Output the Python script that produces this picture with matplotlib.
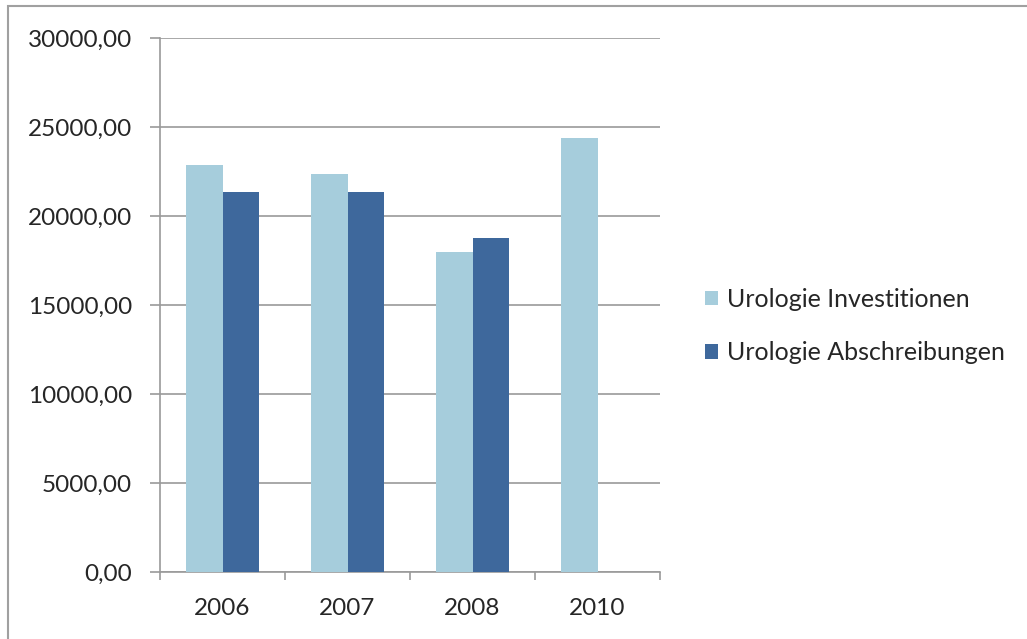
import numpy as np
import matplotlib.pyplot as plt
from matplotlib.patches import Rectangle

# Daten
jahre = ['2006', '2007', '2008', '2010']
investitionen = [22870, 22340, 18000, 24360]
abschreibungen = [21370, 21370, 18750, np.nan]

farbe_inv = '#A6CDDC'
farbe_abs = '#3E689C'
grau = '#9A9A9A'
textfarbe = '#262626'

plt.rcParams['font.family'] = ['Lato', 'DejaVu Sans']

fig = plt.figure(figsize=(10.27, 6.39), dpi=100)
ax = fig.add_axes([0.1558, 0.1049, 0.4869, 0.8357])

x = np.arange(len(jahre))
w = 0.29
ax.bar(x - w / 2, investitionen, w, color=farbe_inv, label='Urologie Investitionen', zorder=3)
ax.bar(x + w / 2, abschreibungen, w, color=farbe_abs, label='Urologie Abschreibungen', zorder=3)

ax.set_xlim(-0.5, len(jahre) - 0.5)
ax.set_ylim(0, 30000)
ax.set_yticks(np.arange(0, 30001, 5000))
ax.set_yticklabels([f'{v},00' for v in range(0, 30001, 5000)])
ax.set_xticks(x)
ax.set_xticklabels(jahre)
ax.set_xticks(np.arange(-0.5, len(jahre), 1), minor=True)

ax.grid(axis='y', color=grau, linewidth=1.2, zorder=0)
for s in ['top', 'right']:
    ax.spines[s].set_visible(False)
for s in ['left', 'bottom']:
    ax.spines[s].set_color(grau)
    ax.spines[s].set_linewidth(1.2)

ax.tick_params(axis='y', length=7, width=1.2, color=grau, labelsize=17.5, labelcolor=textfarbe, pad=13)
ax.tick_params(axis='x', which='major', length=0, labelsize=17.5, labelcolor=textfarbe, pad=19)
ax.tick_params(axis='x', which='minor', length=6, width=1.2, color=grau)

fig.legend(loc='center left', bbox_to_anchor=(0.6646, 0.4898), frameon=False,
           fontsize=18, handlelength=0.52, handleheight=0.52, handletextpad=0.36,
           labelspacing=1.21, labelcolor=textfarbe)

# Rahmen um das Diagramm
fig.patches.append(Rectangle((8 / 1027, -0.05), 1.1, 1.05 - 6 / 639, transform=fig.transFigure,
                             fill=False, edgecolor='#A0A0A0', linewidth=1.5))

fig.savefig('out.png', dpi=100)
